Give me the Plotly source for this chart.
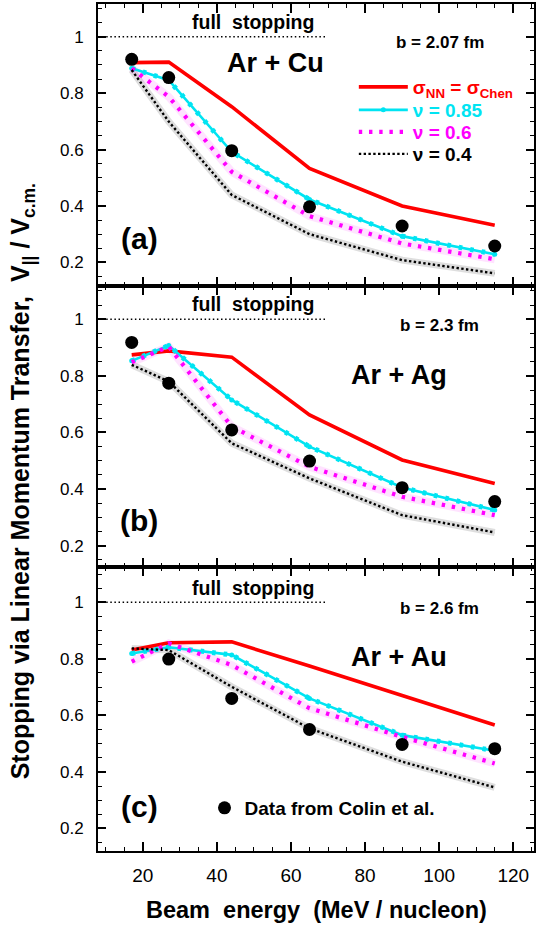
import plotly.graph_objects as go
from plotly.subplots import make_subplots

# ---------------- data ----------------
energy = [17, 27, 44, 65, 90, 115]

data_e_cu = [17, 27, 44, 65, 90, 115]
data_cu = [0.920, 0.855, 0.596, 0.397, 0.329, 0.258]
chen_cu = [0.908, 0.910, 0.752, 0.533, 0.400, 0.332]
nu085_cu = [0.888, 0.846, 0.592, 0.423, 0.293, 0.229]
nu06_cu = [0.888, 0.787, 0.521, 0.364, 0.267, 0.211]
nu04_cu = [0.882, 0.699, 0.439, 0.300, 0.208, 0.161]

data_e_ag = [17, 27, 44, 65, 90, 115]
data_ag = [0.918, 0.774, 0.609, 0.499, 0.405, 0.356]
chen_ag = [0.874, 0.888, 0.866, 0.662, 0.503, 0.420]
nu085_ag = [0.853, 0.907, 0.715, 0.550, 0.406, 0.326]
nu06_ag = [0.848, 0.903, 0.621, 0.479, 0.373, 0.308]
nu04_ag = [0.839, 0.780, 0.562, 0.438, 0.308, 0.247]

data_e_au = [27, 44, 65, 90, 115]
data_au = [0.799, 0.660, 0.550, 0.497, 0.482]
chen_au = [0.831, 0.857, 0.860, 0.775, 0.670, 0.566]
nu085_au = [0.819, 0.841, 0.814, 0.660, 0.530, 0.475]
nu06_au = [0.790, 0.855, 0.778, 0.625, 0.524, 0.430]
nu04_au = [0.837, 0.831, 0.701, 0.554, 0.436, 0.345]

full_stop_x = [7.9, 69.2]
full_stop_y = [1.0, 1.0]

panels = [
    dict(data_e=data_e_cu, data=data_cu, chen=chen_cu, n085=nu085_cu, n06=nu06_cu, n04=nu04_cu,
         system="Ar + Cu", b="b = 2.07 fm", tag="(a)"),
    dict(data_e=data_e_ag, data=data_ag, chen=chen_ag, n085=nu085_ag, n06=nu06_ag, n04=nu04_ag,
         system="Ar + Ag", b="b = 2.3 fm", tag="(b)"),
    dict(data_e=data_e_au, data=data_au, chen=chen_au, n085=nu085_au, n06=nu06_au, n04=nu04_au,
         system="Ar + Au", b="b = 2.6 fm", tag="(c)"),
]

y_ticks = [0.2, 0.4, 0.6, 0.8, 1.0]
y_ticktext = ["0.2", "0.4", "0.6", "0.8", "1"]
x_ticks = [20, 40, 60, 80, 100, 120]

# ---------------- style ----------------
FONT = "Liberation Sans, Arial, Helvetica, sans-serif"
RED = "#ff0000"
CYAN = "#00e4f2"
MAGENTA = "#ff00ff"
BLACK = "#000000"

W, H = 537, 933
ML, MR, MT, MB = 98, 1, 4, 82
PW = W - ML - MR
PH = H - MT - MB


def px_x(px):
    return (px - ML) / PW


def py(px):
    return (MT + PH - px) / PH


fig = make_subplots(rows=3, cols=1, shared_xaxes=True, vertical_spacing=0)

legend_names = ["legend", "legend3", "legend4", "legend5"]

for i, p in enumerate(panels):
    r = i + 1
    first = (i == 0)
    fig.add_trace(go.Scatter(x=full_stop_x, y=full_stop_y, mode="lines",
                             line=dict(color=BLACK, width=1.5, dash="1.5px,2.6px"),
                             showlegend=False, hoverinfo="skip"), row=r, col=1)
    fig.add_trace(go.Scatter(x=energy, y=p["n04"], mode="lines",
                             line=dict(color="rgba(0,0,0,0.13)", width=7),
                             showlegend=False, hoverinfo="skip"), row=r, col=1)
    fig.add_trace(go.Scatter(x=energy, y=p["n06"], mode="lines",
                             line=dict(color="rgba(255,0,255,0.11)", width=8),
                             showlegend=False, hoverinfo="skip"), row=r, col=1)
    fig.add_trace(go.Scatter(x=energy, y=p["chen"], mode="lines",
                             line=dict(color=RED, width=3.6),
                             name='<span style="color:#ff0000">σ<sub>NN</sub> = σ<sub>Chen</sub></span>',
                             showlegend=first, legend=legend_names[0]), row=r, col=1)
    fig.add_trace(go.Scatter(x=energy, y=p["n085"], mode="lines+markers",
                             line=dict(color=CYAN, width=2.6),
                             marker=dict(color=CYAN, size=5),
                             name='<span style="color:#00e4f2">ν = 0.85</span>',
                             showlegend=first, legend=legend_names[1]), row=r, col=1)
    fig.add_trace(go.Scatter(x=energy, y=p["n085"], mode="lines",
                             line=dict(color=CYAN, width=5, dash="3.6px,8px"),
                             showlegend=False, hoverinfo="skip"), row=r, col=1)
    fig.add_trace(go.Scatter(x=energy, y=p["n06"], mode="lines",
                             line=dict(color=MAGENTA, width=4.2, dash="3.4px,6.8px"),
                             name='<span style="color:#ff00ff">ν = 0.6</span>',
                             showlegend=first, legend=legend_names[2]), row=r, col=1)
    fig.add_trace(go.Scatter(x=energy, y=p["n04"], mode="lines",
                             line=dict(color=BLACK, width=2.4, dash="2.4px,2.4px"),
                             name='ν = 0.4',
                             showlegend=first, legend=legend_names[3]), row=r, col=1)
    fig.add_trace(go.Scatter(x=p["data_e"], y=p["data"], mode="markers",
                             marker=dict(color=BLACK, size=13),
                             name="Data from Colin et al.",
                             showlegend=(i == 2), legend="legend2"), row=r, col=1)

# ---------------- axes ----------------
y_ranges = [[0.118, 1.116], [0.125, 1.119], [0.12, 1.125]]
borders_px = [MT, 285.5, 567, MT + PH]
domains = [[py(borders_px[1]), 1.0], [py(borders_px[2]), py(borders_px[1])], [0.0, py(borders_px[2])]]

for i in range(3):
    r = i + 1
    fig.update_yaxes(row=r, col=1, range=y_ranges[i], domain=domains[i],
                     tickvals=y_ticks, ticktext=y_ticktext,
                     ticks="inside", ticklen=8, tickwidth=1.5, tickcolor=BLACK,
                     minor=dict(dtick=0.05, ticks="inside", ticklen=4, tickwidth=1.2, tickcolor=BLACK),
                     showline=True, linewidth=2, linecolor=BLACK, mirror="ticks",
                     showgrid=False, zeroline=False,
                     tickfont=dict(family=FONT, size=17, color=BLACK),
                     ticklabelstandoff=9)
    fig.update_xaxes(row=r, col=1, range=[7.9, 125.6],
                     tickvals=x_ticks,
                     ticks="inside", ticklen=9, tickwidth=1.5, tickcolor=BLACK,
                     minor=dict(dtick=5, tick0=0, ticks="inside", ticklen=4, tickwidth=1.2, tickcolor=BLACK),
                     showline=True, linewidth=2, linecolor=BLACK, mirror="ticks",
                     showgrid=False, zeroline=False,
                     tickfont=dict(family=FONT, size=19, color=BLACK),
                     ticklabelstandoff=6,
                     showticklabels=(r == 3))

# ---------------- annotations ----------------
anns = []
axes_ref = [("x", "y"), ("x2", "y2"), ("x3", "y3")]
sys_pos = [(55.9, 0.907), (89.2, 0.803), (89.2, 0.807)]
tag_y = [0.286, 0.29, 0.276]
for i, p in enumerate(panels):
    xr, yr = axes_ref[i]
    anns.append(dict(x=49.7, y=1.052, xref=xr, yref=yr, text="<b>full  stopping</b>",
                     showarrow=False, font=dict(family=FONT, size=19.5, color=BLACK)))
    anns.append(dict(x=100.2, y=0.979, xref=xr, yref=yr, text="<b>" + p["b"] + "</b>",
                     showarrow=False, font=dict(family=FONT, size=17, color=BLACK)))
    anns.append(dict(x=sys_pos[i][0], y=sys_pos[i][1], xref=xr, yref=yr, text="<b>" + p["system"] + "</b>",
                     showarrow=False, font=dict(family=FONT, size=27, color=BLACK)))
    anns.append(dict(x=19.1, y=tag_y[i], xref=xr, yref=yr, text="<b>" + p["tag"] + "</b>",
                     showarrow=False, font=dict(family=FONT, size=30, color=BLACK)))

anns.append(dict(x=px_x(22), y=py(481), xref="paper", yref="paper", textangle=-90,
                 xanchor="center", yanchor="middle",
                 text="<b>Stopping via Linear Momentum Transfer,  V<sub>||</sub> / V<sub>c.m.</sub></b>",
                 showarrow=False, font=dict(family=FONT, size=25, color=BLACK)))
anns.append(dict(x=px_x(318), y=py(910), xref="paper", yref="paper",
                 xanchor="center", yanchor="middle",
                 text="<b>Beam  energy  (MeV / nucleon)</b>",
                 showarrow=False, font=dict(family=FONT, size=23.5, color=BLACK)))

legend_rows_px = [87, 110, 132, 154]
leg_common = dict(xanchor="left", yanchor="middle", bgcolor="rgba(0,0,0,0)", borderwidth=0,
                  itemwidth=49, font=dict(family=FONT, size=19, color=BLACK, weight="bold"))
layout_legends = {}
for name, ypx in zip(legend_names, legend_rows_px):
    layout_legends[name] = dict(x=px_x(355), y=py(ypx), **leg_common)
layout_legends["legend2"] = dict(x=px_x(205), y=py(808), xanchor="left", yanchor="middle",
                                 bgcolor="rgba(0,0,0,0)", borderwidth=0,
                                 font=dict(family=FONT, size=19, color=BLACK, weight="bold"))

fig.update_layout(
    width=W, height=H,
    margin=dict(l=ML, r=MR, t=MT, b=MB),
    paper_bgcolor="white", plot_bgcolor="white",
    font=dict(family=FONT, color=BLACK),
    annotations=anns,
    **layout_legends,
)

fig.write_html("out.html", config={"displayModeBar": False},
               post_script="document.body.style.margin='0';document.body.style.padding='0';")
